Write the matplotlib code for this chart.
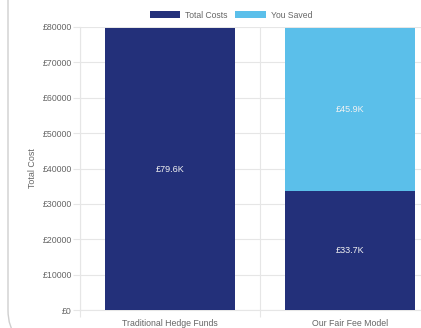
import matplotlib
matplotlib.use("Agg")
import matplotlib.pyplot as plt
from matplotlib.patches import FancyBboxPatch, Patch
from matplotlib.transforms import IdentityTransform
from matplotlib.ticker import FixedLocator

plt.rcParams['font.family'] = ['Liberation Sans', 'DejaVu Sans']

categories = ["Traditional Hedge Funds", "Our Fair Fee Model"]
total_costs = [79600, 33700]
you_saved = [0, 45900]
series_names = ["Total Costs", "You Saved"]
y_ticks = [0, 10000, 20000, 30000, 40000, 50000, 60000, 70000, 80000]

navy = "#23307a"
sky = "#5bbfea"
grid_c = "#e6e6e6"
text_c = "#666666"

W, H, DPI = 421, 328, 100
fig = plt.figure(figsize=(W / DPI, H / DPI), dpi=DPI)
fig.patch.set_facecolor("white")

# card outline behind the chart
card = FancyBboxPatch((8, -17), 480, 420,
                      boxstyle="round,pad=0,rounding_size=35",
                      transform=IdentityTransform(),
                      facecolor="none", edgecolor="#cfcfcf", linewidth=1.0)
fig.patches.append(card)

left_px, right_px, top_px, bot_px = 80, 440, 27, 310
ax = fig.add_axes([left_px / W, (H - bot_px) / H,
                   (right_px - left_px) / W, (bot_px - top_px) / H])

x = list(range(len(categories)))
bw = 0.72
ax.bar(x, total_costs, width=bw, color=navy, label=series_names[0], zorder=3)
ax.bar(x, you_saved, width=bw, bottom=total_costs, color=sky,
       label=series_names[1], zorder=3)

ax.set_xlim(-0.5, len(categories) - 0.5)
ax.set_ylim(0, 80000)

# value labels in the middle of each segment
for i in x:
    if total_costs[i] > 0:
        ax.text(i, total_costs[i] / 2, f"£{total_costs[i] / 1000:.1f}K",
                ha="center", va="center", color="#f2f2f2", fontsize=6.5, zorder=4)
    if you_saved[i] > 0:
        ax.text(i, total_costs[i] + you_saved[i] / 2, f"£{you_saved[i] / 1000:.1f}K",
                ha="center", va="center", color="#f2f2f2", fontsize=6.5, zorder=4)

# y axis
ax.set_yticks(y_ticks)
ax.set_yticklabels([f"£{v}" for v in y_ticks])
ax.tick_params(axis="y", length=5, width=0.8, color=grid_c, pad=0.8,
               labelsize=6.3, labelcolor=text_c)
ax.yaxis.grid(True, color=grid_c, linewidth=0.8, zorder=0)

# x axis: labels at the centres, grid lines between categories
ax.set_xticks(x)
ax.set_xticklabels(categories)
ax.tick_params(axis="x", which="major", length=0, pad=6.5,
               labelsize=6.3, labelcolor=text_c)
ax.xaxis.set_minor_locator(FixedLocator([i + 0.5 for i in range(-1, len(categories))]))
ax.tick_params(axis="x", which="minor", length=5, width=0.8, color=grid_c)
ax.xaxis.grid(True, which="minor", color=grid_c, linewidth=0.8, zorder=0)

for side in ["top", "right"]:
    ax.spines[side].set_visible(False)
for side in ["left", "bottom"]:
    ax.spines[side].set_color(grid_c)
    ax.spines[side].set_linewidth(0.8)

ax.set_ylabel("Total Cost", fontsize=6.4, color=text_c)
ax.yaxis.set_label_coords(-(left_px - 37) / (right_px - left_px), 0.5)

handles = [Patch(facecolor=navy, edgecolor="none"),
           Patch(facecolor=sky, edgecolor="none")]
fig.legend(handles, series_names, loc="center", ncol=2,
           bbox_to_anchor=(231 / W, (H - 15) / H), frameon=False,
           fontsize=6.2, labelcolor=text_c, handlelength=3.5, handleheight=0.95,
           handletextpad=0.6, columnspacing=0.9, borderpad=0, borderaxespad=0)

fig.savefig("out.png", dpi=DPI)
